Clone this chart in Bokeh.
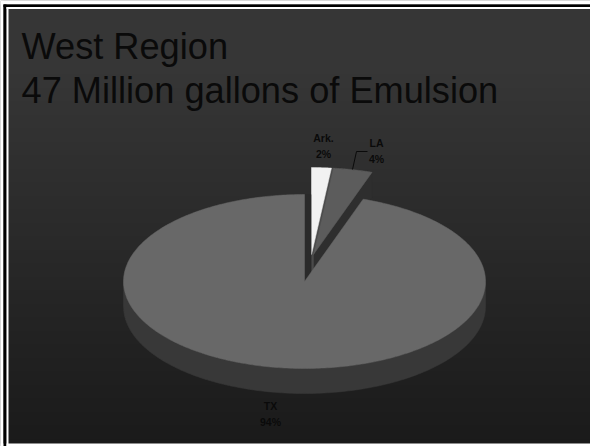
import math
import numpy as np
from bokeh.plotting import figure
from bokeh.embed import file_html
from bokeh.resources import INLINE
from bokeh.models import Range1d, Label

categories = ["TX", "Ark.", "LA"]
shares = [94, 2, 4]
share_labels = ["94%", "2%", "4%"]
title_lines = ["West Region", "47 Million gallons of Emulsion"]

PW, PH = 590, 446
CX, CY, RX, RY, DEPTH = 304, 165, 181, 87, 25   # y measured upward from page bottom
NARROW = 0.88   # foreshortening of the slices at the far side of the tilted pie

p = figure(width=PW, height=PH, x_range=Range1d(0, PW), y_range=Range1d(0, PH),
           output_backend="svg", toolbar_location=None, min_border=0)
p.axis.visible = False
p.grid.visible = False
p.outline_line_color = None
p.background_fill_color = "#ffffff"
p.border_fill_color = "#ffffff"

# gradient background
top_g, bot_g = 54, 26
rows = PH
img = np.zeros((rows, 1), dtype=np.uint32)
view = img.view(dtype=np.uint8).reshape((rows, 1, 4))
for i in range(rows):
    g = int(round(bot_g + (top_g - bot_g) * min(1.0, (i / (rows - 1)) / 0.85)))
    view[i, 0] = (g, g, g, 255)
p.image_rgba(image=[img], x=0, y=0, dw=PW, dh=PH)

def warp(a):
    return math.degrees(math.asin(NARROW * math.sin(math.radians(a))))

def pt(a, cx=CX, cy=CY):
    """a: degrees clockwise from 12 o'clock"""
    t = math.radians(a)
    return cx + RX * math.sin(t), cy + RY * math.cos(t)

total = sum(shares)
ark_end = warp(shares[1] / total * 360)
la_end = warp((shares[1] + shares[2]) / total * 360)

def sector(a0, a1, cx, cy, steps=160):
    pts = [(cx, cy)] + [pt(a, cx, cy) for a in np.linspace(a0, a1, steps)]
    return [q[0] for q in pts], [q[1] for q in pts]

def poly(points, color):
    p.patch([q[0] for q in points], [q[1] for q in points], fill_color=color, line_color=color, line_width=0.5)

# Exploded slices: their apex positions
ark_c = (CX + 7, CY + 27)
la_c = (CX + 9, CY + 27)

# LA: extruded wall along its right edge
poly([pt(la_end, *la_c), pt(la_end, la_c[0], la_c[1] - DEPTH), (la_c[0], la_c[1] - DEPTH), la_c], "#2e2e2e")

# wall visible in the gap between Ark and LA, and under their apexes
poly([pt(ark_end, *ark_c), pt(ark_end, *la_c), la_c, (la_c[0], la_c[1] - 18), (ark_c[0], ark_c[1] - 18), ark_c], "#4a4a4a")

xs, ys = sector(ark_end, la_end, *la_c)
p.patch(xs, ys, fill_color="#5c5c5c", line_color="#5c5c5c", line_width=0.5)
xs, ys = sector(0, ark_end, *ark_c)
p.patch(xs, ys, fill_color="#f2f2f2", line_color="#f2f2f2", line_width=0.5)

# TX: rim (front wall), notch wall, top
aa = np.linspace(90, 270, 160)
front = [pt(a) for a in aa]
rim = front + [(x, y - DEPTH) for x, y in reversed(front)]
poly(rim, "#383838")
poly([(CX, CY), pt(360), pt(360, CX + 6.5, CY), (CX + 6.5, CY + 9)], "#2a2a2a")
xs, ys = sector(warp((shares[1] + shares[2]) / total * 360), 360, CX, CY, 400)
p.patch(xs, ys, fill_color="#686868", line_color="#686868", line_width=0.5)

# frame: white margin, black rule, white rule on the left and top; white strip at the bottom
p.quad(left=[0, 0, 0], right=[3, PW, PW], bottom=[0, PH - 4, 0], top=[PH, PH, 3],
       fill_color="#ffffff", line_color=None)
p.quad(left=[3, 3], right=[6, PW], bottom=[0, PH - 6.5], top=[PH - 4, PH - 4],
       fill_color="#000000", line_color=None)
p.quad(left=[6, 6], right=[8, PW], bottom=[0, PH - 8.5], top=[PH - 6.5, PH - 6.5],
       fill_color="#ffffff", line_color=None)

# leader line for LA
p.line([352, 356, 367], [PH - 169, PH - 151, PH - 151], line_color="#0a0a0a", line_width=1)

for name, val, lx, ly, ly2 in zip(categories, share_labels, [270, 323, 376], [405, 137, 142], [421, 153, 158]):
    p.add_layout(Label(x=lx, y=PH - ly, text=name, text_font="Liberation Sans", text_font_style="bold",
                       text_font_size="10.5px", text_color="#0a0a0a", text_align="center", text_baseline="middle"))
    p.add_layout(Label(x=lx, y=PH - ly2, text=val, text_font="Liberation Sans", text_font_style="bold",
                       text_font_size="10.5px", text_color="#0a0a0a", text_align="center", text_baseline="middle"))

for line, yy in zip(title_lines, [46, 90]):
    p.add_layout(Label(x=21, y=PH - yy, text=line, text_font="Liberation Sans", text_font_size="36.2px",
                       text_color="#0a0a0a", text_align="left", text_baseline="middle"))

open("out.html", "w").write(file_html(p, INLINE))
